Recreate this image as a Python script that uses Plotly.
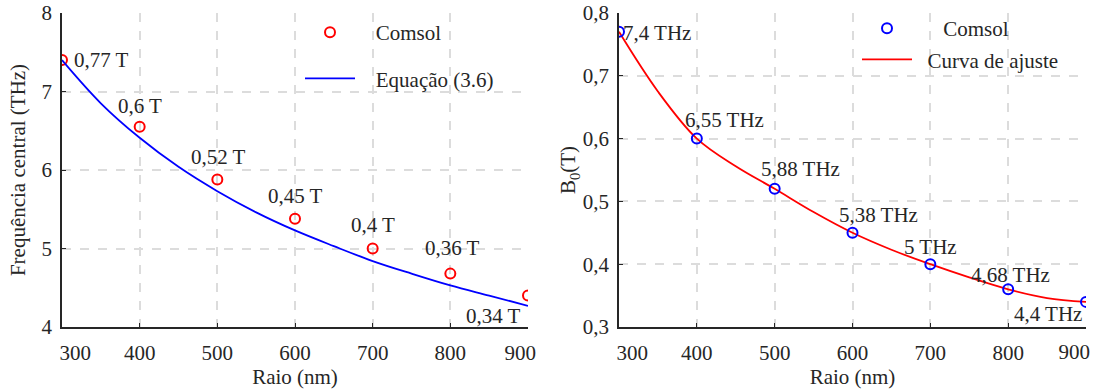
import plotly.graph_objects as go
from plotly.subplots import make_subplots

# ---- data ----
raio = [300, 400, 500, 600, 700, 800, 900]
freq_comsol = [7.4, 6.55, 5.88, 5.38, 5.0, 4.68, 4.4]
b0_comsol = [0.77, 0.6, 0.52, 0.45, 0.4, 0.36, 0.34]

raio_eq = [300, 350, 400, 450, 500, 550, 600, 650, 700, 750, 800, 850, 900]
freq_eq = [7.4, 6.85, 6.41, 6.04, 5.73, 5.46, 5.23, 5.03, 4.84, 4.68, 4.53, 4.40, 4.27]

raio_fit = [300, 350, 400, 450, 500, 550, 600, 650, 700, 750, 800, 850, 900]
b0_fit = [0.77, 0.675, 0.6, 0.556, 0.52, 0.483, 0.45, 0.423, 0.4, 0.379, 0.36, 0.346, 0.34]

freq_labels = ["7,4 THz", "6,55 THz", "5,88 THz", "5,38 THz", "5 THz", "4,68 THz", "4,4 THz"]
b0_labels = ["0,77 T", "0,6 T", "0,52 T", "0,45 T", "0,4 T", "0,36 T", "0,34 T"]

x_ticks = [300, 400, 500, 600, 700, 800, 900]
x_ticktext = ["300", "400", "500", "600", "700", "800", "900"]
y1_ticks = [4, 5, 6, 7, 8]
y1_ticktext = ["4", "5", "6", "7", "8"]
y2_ticks = [0.3, 0.4, 0.5, 0.6, 0.7, 0.8]
y2_ticktext = ["0,3", "0,4", "0,5", "0,6", "0,7", "0,8"]

FONT = "Liberation Serif, Times New Roman, serif"
FS = 21
TXT = "#262626"
W, H = 1093, 390
ML, MR = 62, 7
L1, R1 = 62, 528
L2, R2 = 619, 1086
TOP, BOT = 13, 327
IW = W - ML - MR
PH = BOT - TOP
NB = "\u00a0"
EN = "\u2002"

def px(p):
    return (p - ML) / IW

def py(p):
    return (BOT - p) / PH

def pad(sp, s):
    return "<span>" + sp + "</span>" + s

# end tick labels are nudged inward as in the reference
left_tt = [NB * 5 + x_ticktext[0]] + x_ticktext[1:-1] + [x_ticktext[-1] + NB * 3]
right_tt = [NB * 5 + x_ticktext[0]] + x_ticktext[1:-1] + [""]

fig = make_subplots(rows=1, cols=2)

fig.add_trace(go.Scatter(x=raio, y=freq_comsol, mode="markers", name=pad(NB * 3, "Comsol"),
                         marker=dict(symbol="circle-open", size=10, color="#ff0000", line=dict(width=2)),
                         legend="legend", legendgroup="a", legendrank=1), 1, 1)
fig.add_trace(go.Scatter(x=raio_eq, y=freq_eq, mode="lines", name=pad(NB * 3, "Equação (3.6)"),
                         line=dict(color="#0000ff", width=1.8, shape="spline"),
                         legend="legend", legendgroup="b", legendrank=2), 1, 1)

fig.add_trace(go.Scatter(x=raio_fit, y=b0_fit, mode="lines", name=pad(NB * 2, "Curva de ajuste"),
                         line=dict(color="#ff0000", width=1.8, shape="spline"),
                         legend="legend2", legendgroup="d", legendrank=2), 1, 2)
fig.add_trace(go.Scatter(x=raio, y=b0_comsol, mode="markers", name=pad(EN * 2 + NB * 1, "Comsol"),
                         marker=dict(symbol="circle-open", size=10, color="#0000ff", line=dict(width=2)),
                         legend="legend2", legendgroup="c", legendrank=1), 1, 2)
# carrier trace for the overlay axis holding the last right-hand tick label
fig.add_trace(go.Scatter(x=[raio[-1]], y=[b0_comsol[-1]], mode="markers", marker=dict(opacity=0),
                         showlegend=False, hoverinfo="skip", xaxis="x3", yaxis="y2"))

# annotations
ann_l = [(313, 7.40, "left"), (400, 6.82, "center"), (502, 6.17, "center"), (601, 5.67, "center"),
         (700, 5.30, "center"), (803, 5.01, "center"), (893, 4.14, "right")]
for (x, y, anc), t in zip(ann_l, b0_labels):
    fig.add_annotation(x=x, y=y, text=t, xref="x", yref="y", showarrow=False, xanchor=anc,
                       font=dict(family=FONT, size=FS, color=TXT))
ann_r = [(303, 0.768, "left"), (435, 0.630, "center"), (533, 0.552, "center"), (633, 0.478, "center"),
         (700, 0.428, "center"), (803, 0.383, "center"), (897, 0.321, "right")]
for (x, y, anc), t in zip(ann_r, freq_labels):
    fig.add_annotation(x=x, y=y, text=t, xref="x2", yref="y2", showarrow=False, xanchor=anc,
                       font=dict(family=FONT, size=FS, color=TXT))

axis_common = dict(showgrid=True, gridcolor="#dcdcdc", gridwidth=1.5, griddash="dash",
                   showline=True, linecolor=TXT, linewidth=1.5, zeroline=False,
                   ticks="inside", ticklen=4, tickcolor=TXT, automargin=False,
                   ticklabeloverflow="allow",
                   tickfont=dict(family=FONT, size=FS, color=TXT))
xtitle = dict(text="Raio (nm)", font=dict(family=FONT, size=FS, color=TXT), standoff=0)

fig.update_xaxes(**axis_common, range=[300, 900], tickvals=x_ticks, ticklabelstandoff=6, title=xtitle)
fig.update_xaxes(domain=[px(L1), px(R1)], ticktext=left_tt, row=1, col=1)
fig.update_xaxes(domain=[px(L2), px(R2)], ticktext=right_tt, row=1, col=2)
fig.update_yaxes(**axis_common, ticklabelstandoff=4)
fig.update_yaxes(range=[4, 8], tickvals=y1_ticks, ticktext=y1_ticktext, row=1, col=1,
                 title=dict(text="Frequência central (THz)", font=dict(family=FONT, size=FS, color=TXT), standoff=10))
fig.update_yaxes(range=[0.3, 0.8], tickvals=y2_ticks, ticktext=y2_ticktext, row=1, col=2,
                 title=dict(text="B<sub>0</sub>(T)", font=dict(family=FONT, size=FS, color=TXT), standoff=0))

fig.update_layout(
    xaxis3=dict(overlaying="x2", anchor="y2", side="bottom", range=[300, 900],
                domain=[px(L2), px(R2)], showgrid=False, showline=False, zeroline=False,
                tickvals=[x_ticks[-1]], ticktext=[x_ticktext[-1]], ticks="",
                ticklabelposition="outside left", ticklabelshift=4, ticklabelstandoff=10,
                automargin=False, tickfont=dict(family=FONT, size=FS, color=TXT)),
    width=W, height=H,
    margin=dict(l=ML, r=MR, t=TOP, b=H - BOT),
    paper_bgcolor="white", plot_bgcolor="white",
    font=dict(family=FONT, size=FS, color=TXT),
    legend=dict(x=px(300), y=py(12), xanchor="left", yanchor="top",
                bgcolor="rgba(0,0,0,0)", font=dict(family=FONT, size=FS, color=TXT),
                itemwidth=50, tracegroupgap=16, traceorder="grouped"),
    legend2=dict(x=px(857), y=py(8), xanchor="left", yanchor="top",
                 bgcolor="rgba(0,0,0,0)", font=dict(family=FONT, size=FS, color=TXT),
                 itemwidth=50, tracegroupgap=1, traceorder="grouped"),
)

fig.write_html("out.html")
